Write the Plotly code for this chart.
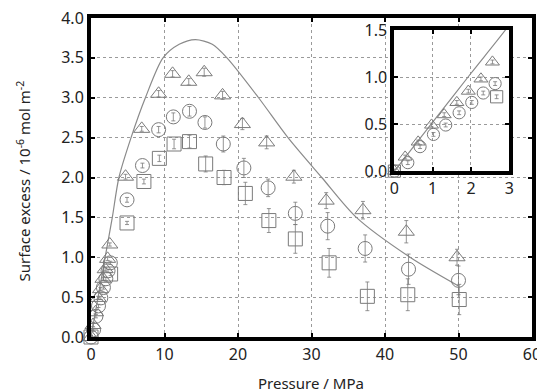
import plotly.graph_objects as go

# ---------------- data ----------------
# model curve (Pressure MPa, surface excess)
curve_p = [0, 1.0, 2.0, 2.9, 3.8, 5.45, 7.4, 9.8, 12.0, 14.2, 16.5, 18.5, 22.8, 26.8, 31.4, 36.1, 43.4, 50.0]
curve_y = [0, 0.52, 1.04, 1.50, 2.0, 2.5, 3.0, 3.5, 3.67, 3.73, 3.67, 3.5, 3.0, 2.5, 2.0, 1.5, 1.0, 0.64]

# low-pressure points (visible in inset)
tri_low_p = [0, 0.28, 0.62, 0.97, 1.30, 1.63, 1.93, 2.26, 2.56]
tri_low_y = [0, 0.15, 0.31, 0.49, 0.60, 0.73, 0.85, 0.98, 1.16]
cir_low_p = [0, 0.35, 0.67, 1.02, 1.34, 1.69, 2.02, 2.32, 2.63]
cir_low_y = [0, 0.09, 0.26, 0.39, 0.49, 0.62, 0.73, 0.83, 0.93]
sq_low_p = [0, 2.67]
sq_low_y = [0, 0.79]

# high-pressure points
tri_p = [4.7, 6.9, 9.2, 11.1, 13.3, 15.4, 17.9, 20.6, 23.9, 27.6, 32.0, 37.0, 42.9, 49.8]
tri_y = [2.01, 2.61, 3.05, 3.30, 3.20, 3.32, 3.03, 2.67, 2.44, 2.01, 1.71, 1.59, 1.32, 1.00]
tri_err = [0.03, 0.03, 0.04, 0.04, 0.04, 0.05, 0.05, 0.07, 0.08, 0.08, 0.10, 0.11, 0.14, 0.10]

cir_p = [4.9, 7.0, 9.2, 11.2, 13.4, 15.5, 18.0, 20.8, 24.1, 27.8, 32.2, 37.3, 43.2, 50.0]
cir_y = [1.72, 2.15, 2.60, 2.76, 2.83, 2.69, 2.42, 2.12, 1.87, 1.55, 1.39, 1.11, 0.85, 0.71]
cir_err = [0.03, 0.03, 0.04, 0.05, 0.06, 0.07, 0.10, 0.12, 0.11, 0.14, 0.17, 0.17, 0.19, 0.18]

sq_p = [4.9, 7.2, 9.3, 11.3, 13.4, 15.6, 18.1, 21.0, 24.2, 27.8, 32.4, 37.6, 43.1, 50.1]
sq_y = [1.43, 1.95, 2.24, 2.42, 2.45, 2.17, 2.00, 1.80, 1.46, 1.23, 0.93, 0.51, 0.53, 0.47]
sq_err = [0.02, 0.03, 0.04, 0.06, 0.08, 0.10, 0.09, 0.14, 0.15, 0.18, 0.18, 0.18, 0.20, 0.19]

low_err = 0.02

x_ticks = [0, 10, 20, 30, 40, 50, 60]
y_ticks = [0.0, 0.5, 1.0, 1.5, 2.0, 2.5, 3.0, 3.5, 4.0]
ix_ticks = [0, 1, 2, 3]
iy_ticks = [0.0, 0.5, 1.0, 1.5]

x_title = "Pressure / MPa"
y_title = "Surface excess / 10<sup>-6</sup> mol m<sup>-2</sup>"

# ---------------- style ----------------
GRAY = "#7a7a7a"
LINE = "#8a8a8a"
TXT = "#222222"
FONT = "Noto Sans"

fig = go.Figure()


def add_series(xs, ys, errs, symbol, size, xaxis, yaxis):
    fig.add_trace(go.Scatter(
        x=xs, y=ys, mode="markers",
        marker=dict(symbol=symbol, size=size, color=GRAY, line=dict(width=1, color=GRAY)),
        error_y=dict(type="data", array=errs, visible=True, color=GRAY, thickness=0.8, width=2),
        xaxis=xaxis, yaxis=yaxis, cliponaxis=False, showlegend=False,
    ))


for ax, ay, s in [("x", "y", 1.0), ("x2", "y2", 0.87)]:
    fig.add_trace(go.Scatter(
        x=curve_p, y=curve_y, mode="lines", line=dict(color=LINE, width=1.2, shape="spline", smoothing=0.8),
        xaxis=ax, yaxis=ay, showlegend=False, hoverinfo="skip",
    ))
    add_series(tri_low_p + tri_p, tri_low_y + tri_y, [low_err] * len(tri_low_p) + tri_err,
               "triangle-up-open", 14 * s, ax, ay)
    add_series(cir_low_p + cir_p, cir_low_y + cir_y, [low_err] * len(cir_low_p) + cir_err,
               "circle-open", 14 * s, ax, ay)
    add_series(sq_low_p + sq_p, sq_low_y + sq_y, [low_err] * len(sq_low_p) + sq_err,
               "square-open", 14 * s, ax, ay)

axis_common = dict(
    showline=True, linecolor="black", linewidth=4, mirror="allticks",
    ticks="inside", ticklen=4, tickwidth=2, tickcolor="black",
    showgrid=True, gridcolor="#9a9a9a", gridwidth=1, griddash="dot",
    zeroline=False, tickfont=dict(family=FONT, size=16, color=TXT),
    ticklabeloverflow="allow",
)

# page body has an 8px margin, so the figure is 8px smaller and offset
fig.update_layout(
    width=537, height=384,
    margin=dict(l=83, r=13, t=10, b=55, autoexpand=False),
    paper_bgcolor="white", plot_bgcolor="white",
    font=dict(family=FONT, color=TXT),
    xaxis=dict(range=[0, 60], tickvals=x_ticks, ticktext=[str(v) for v in x_ticks],
               domain=[0, 1], anchor="y", automargin=False, **axis_common),
    yaxis=dict(range=[0, 4.0], tickvals=y_ticks, ticktext=[f"{v:.1f}" for v in y_ticks],
               domain=[0, 1], anchor="x", automargin=False, **axis_common),
    xaxis2=dict(range=[0, 3], tickvals=ix_ticks, ticktext=[str(v) for v in ix_ticks],
                domain=[0.688, 0.9485], anchor="y2", **axis_common),
    yaxis2=dict(range=[0, 1.5], tickvals=iy_ticks, ticktext=[f"{v:.1f}" for v in iy_ticks],
                domain=[0.52, 0.9625], anchor="x2", **axis_common),
    annotations=[
        dict(text=x_title, xref="paper", yref="paper", x=0.499, y=-0.144,
             xanchor="center", yanchor="middle", showarrow=False,
             font=dict(family=FONT, size=15, color=TXT)),
        dict(text=y_title, xref="paper", yref="paper", x=-0.154, y=0.4875,
             xanchor="center", yanchor="middle", showarrow=False, textangle=-90,
             font=dict(family=FONT, size=15, color=TXT)),
    ],
)

fig.write_html("out.html")
